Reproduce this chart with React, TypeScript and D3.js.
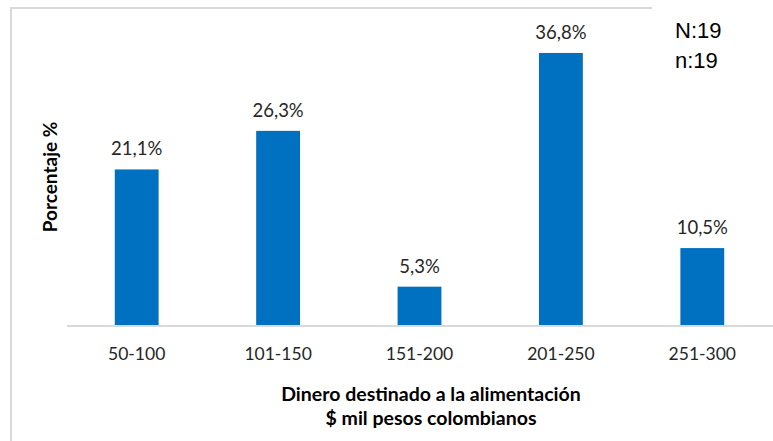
import React from "react";
import * as d3 from "d3";

const categories = ["50-100", "101-150", "151-200", "201-250", "251-300"];
const values = [21.1, 26.3, 5.3, 36.8, 10.5];
const valueLabels = ["21,1%", "26,3%", "5,3%", "36,8%", "10,5%"];
const xTitleLines = ["Dinero destinado a la alimentación", "$ mil pesos colombianos"];
const yTitle = "Porcentaje %";
const noteLines = ["N:19", "n:19"];

const W = 773;
const H = 441;
const FONT = "Lato, 'Open Sans', sans-serif";

export default function App() {
  const x = d3.scaleBand<string>().domain(categories).range([66, 773]).paddingInner(0.69).paddingOuter(0.345);
  const y = d3.scaleLinear().domain([0, 40]).range([326, 29.2]);
  const base = y(0);
  return (
    <svg width={W} height={H} style={{ position: "absolute", left: 0, top: 0, background: "#fff" }}>
      <rect x={0} y={0} width={W} height={H} fill="#fff" />
      {/* partial frame */}
      <line x1={11} y1={8} x2={652} y2={8} stroke="#d9d9d9" strokeWidth={2} />
      <line x1={11} y1={7} x2={11} y2={H} stroke="#d9d9d9" strokeWidth={2} />
      {/* baseline */}
      <line x1={67} y1={base} x2={W} y2={base} stroke="#d9d9d9" strokeWidth={2} />
      {categories.map((c, i) => (
        <rect key={c} x={x(c)} y={y(values[i])} width={x.bandwidth()} height={base - 1 - y(values[i])} fill="#0070C0" />
      ))}
      {categories.map((c, i) => (
        <text key={"l" + c} x={(x(c) as number) + x.bandwidth() / 2} y={y(values[i]) - 14} textAnchor="middle"
          fontFamily={FONT} fontSize={18.5} fill="#262626">{valueLabels[i]}</text>
      ))}
      {categories.map((c) => (
        <text key={"t" + c} x={(x(c) as number) + x.bandwidth() / 2} y={360} textAnchor="middle"
          fontFamily={FONT} fontSize={17.5} fill="#262626">{c}</text>
      ))}
      {xTitleLines.map((t, i) => (
        <text key={"xt" + i} x={431} y={401 + i * 24} textAnchor="middle" fontFamily={FONT} fontWeight="bold"
          fontSize={19.5} fill="#000">{t}</text>
      ))}
      <text transform={`translate(57,177) rotate(-90)`} textAnchor="middle" fontFamily={FONT} fontWeight="bold"
        fontSize={19} fill="#000">{yTitle}</text>
      {noteLines.map((t, i) => (
        <text key={"n" + i} x={675} y={38 + i * 30} fontFamily="'Liberation Sans', Arial, sans-serif" fontSize={22} fill="#000">{t}</text>
      ))}
    </svg>
  );
}
